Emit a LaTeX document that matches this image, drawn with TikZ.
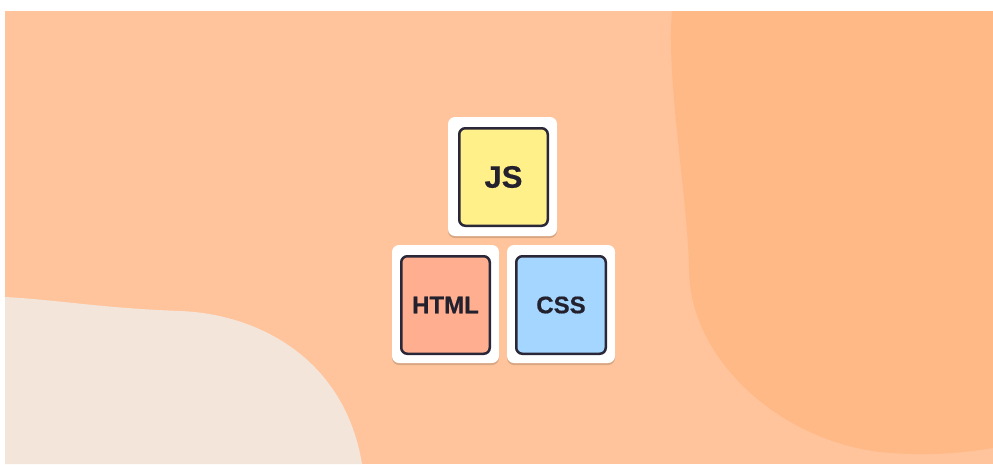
\documentclass[tikz,border=0pt]{standalone}
\usepackage{fontspec}
\setmainfont{Liberation Sans}
\newfontfamily\heavy[UprightFont={* Bold}, FakeBold=0.6]{Liberation Sans}
\usetikzlibrary{shadows}
\definecolor{peach}{HTML}{FFC49B}
\definecolor{peachdark}{HTML}{FFB986}
\definecolor{cream}{HTML}{F4E5DA}
\definecolor{jsyellow}{HTML}{FFF08A}
\definecolor{htmlsalmon}{HTML}{FFAF8F}
\definecolor{cssblue}{HTML}{A5D6FF}
\definecolor{ink}{HTML}{2A2838}
\definecolor{txt}{HTML}{23212E}
\tikzset{
  tileout/.style={draw=none, fill=white, rounded corners=7pt, inner sep=0pt,
    drop shadow={shadow xshift=0pt, shadow yshift=-2pt, opacity=0.15, fill=black}},
  tilein/.style={draw=ink, line width=2.5pt, rounded corners=6pt, inner sep=0pt,
    minimum width=88.5pt, minimum height=97.5pt, text=txt, font=\heavy\fontsize{24}{24}\selectfont},
}
\begin{document}
\begin{tikzpicture}[x=1pt, y=-1pt]
  \useasboundingbox (0,0) rectangle (993,464);
  \fill[white] (0,0) rectangle (993,464);
  \fill[peach] (5,11) rectangle (993,464);
  \begin{scope}
    \clip (5,11) rectangle (993,464);
    \fill[peachdark] (672,11) .. controls (666,80) and (688,200) .. (689,270)
      .. controls (690,360) and (780,440) .. (880,452)
      .. controls (930,457) and (970,452) .. (993,448) -- (993,11) -- cycle;
    \fill[cream] (5,297) .. controls (60,300) and (100,308) .. (180,311)
      .. controls (260,314) and (345,360) .. (362,464) -- (5,464) -- cycle;
  \end{scope}
  % tiles
  \node[tileout, minimum width=109pt, minimum height=119pt] (jsbox) at (502.5,176.5) {};
  \node[tileout, minimum width=107pt, minimum height=118pt] (htmlbox) at (445.5,304) {};
  \node[tileout, minimum width=108pt, minimum height=118pt] (cssbox) at (561,304) {};
  \node[tilein, fill=jsyellow, font=\heavy\fontsize{31}{31}\selectfont] (js) at (503.5,177) {JS};
  \node[tilein, fill=htmlsalmon] (html) at (445.5,305) {HTML};
  \node[tilein, fill=cssblue, minimum width=89.5pt] (css) at (561,305) {CSS};
\end{tikzpicture}
\end{document}
